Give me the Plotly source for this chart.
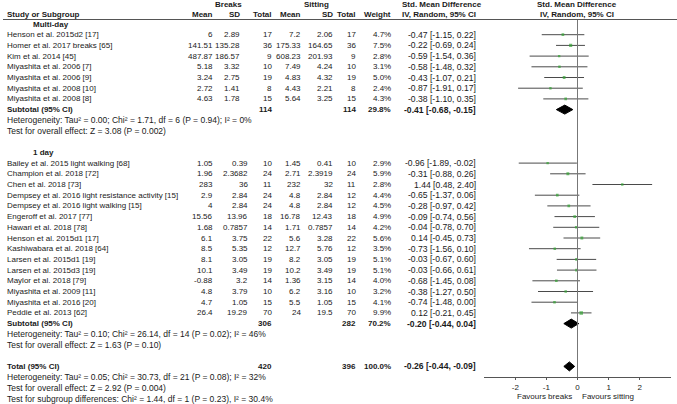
import plotly.graph_objects as go

# ---------------- data ----------------
multi_study = ["Henson et al. 2015d2 [17]", "Homer et al. 2017 breaks [65]", "Kim et al. 2014 [45]",
               "Miyashita et al. 2006 [7]", "Miyashita et al. 2006 [9]", "Miyashita et al. 2008 [10]",
               "Miyashita et al. 2008 [8]"]
multi_b_mean = ["6", "141.51", "487.87", "5.18", "3.24", "2.72", "4.63"]
multi_b_sd = ["2.89", "135.28", "186.57", "3.32", "2.75", "1.41", "1.78"]
multi_b_n = [17, 36, 9, 10, 19, 8, 15]
multi_s_mean = ["7.2", "175.33", "608.23", "7.49", "4.83", "4.43", "5.64"]
multi_s_sd = ["2.06", "164.65", "201.93", "4.24", "4.32", "2.21", "3.25"]
multi_s_n = [17, 36, 9, 10, 19, 8, 15]
multi_weight = [4.7, 7.5, 2.8, 3.1, 5.0, 2.4, 4.3]
multi_smd = [-0.47, -0.22, -0.59, -0.58, -0.43, -0.87, -0.38]
multi_lo = [-1.15, -0.69, -1.54, -1.48, -1.07, -1.91, -1.10]
multi_hi = [0.22, 0.24, 0.36, 0.32, 0.21, 0.17, 0.35]

day_study = ["Bailey et al. 2015 light walking [68]", "Champion et al. 2018 [72]", "Chen et al. 2018 [73]",
             "Dempsey et al. 2016 light resistance activity [15]", "Dempsey et al. 2016 light walking [15]",
             "Engeroff et al. 2017 [77]", "Hawari et al. 2018 [78]", "Henson et al. 2015d1 [17]",
             "Kashiwabara et al. 2018 [64]", "Larsen et al. 2015d1 [19]", "Larsen et al. 2015d3 [19]",
             "Maylor et al. 2018 [79]", "Miyashita et al. 2009 [11]", "Miyashita et al. 2016 [20]",
             "Peddie et al. 2013 [62]"]
day_b_mean = ["1.05", "1.96", "283", "2.9", "4", "15.56", "1.68", "6.1", "8.5", "8.1", "10.1", "-0.88", "4.8", "4.7", "26.4"]
day_b_sd = ["0.39", "2.3682", "36", "2.84", "2.84", "13.96", "0.7857", "3.75", "5.35", "3.05", "3.49", "3.2", "3.79", "1.05", "19.29"]
day_b_n = [10, 24, 11, 24, 24, 18, 14, 22, 12, 19, 19, 14, 10, 15, 70]
day_s_mean = ["1.45", "2.71", "232", "4.8", "4.8", "16.78", "1.71", "5.6", "12.7", "8.2", "10.2", "1.36", "6.2", "5.5", "24"]
day_s_sd = ["0.41", "2.3919", "32", "2.84", "2.84", "12.43", "0.7857", "3.28", "5.76", "3.05", "3.49", "3.15", "3.16", "1.05", "19.5"]
day_s_n = [10, 24, 11, 12, 12, 18, 14, 22, 12, 19, 19, 14, 10, 15, 70]
day_weight = [2.9, 5.9, 2.8, 4.4, 4.5, 4.9, 4.2, 5.6, 3.5, 5.1, 5.1, 4.0, 3.2, 4.1, 9.9]
day_smd = [-0.96, -0.31, 1.44, -0.65, -0.28, -0.09, -0.04, 0.14, -0.73, -0.03, -0.03, -0.68, -0.38, -0.74, 0.12]
day_lo = [-1.89, -0.88, 0.48, -1.37, -0.97, -0.74, -0.78, -0.45, -1.56, -0.67, -0.66, -1.45, -1.27, -1.48, -0.21]
day_hi = [-0.02, 0.26, 2.40, 0.06, 0.42, 0.56, 0.70, 0.73, 0.10, 0.60, 0.61, 0.08, 0.50, 0.00, 0.45]

# subtotals: [b_total, s_total, weight, smd, lo, hi]
sub_multi = [114, 114, 29.8, -0.41, -0.68, -0.15]
sub_day = [306, 282, 70.2, -0.20, -0.44, 0.04]
total_all = [420, 396, 100.0, -0.26, -0.44, -0.09]

het_multi = "Heterogeneity: Tau² = 0.00; Chi² = 1.71, df = 6 (P = 0.94); I² = 0%"
eff_multi = "Test for overall effect: Z = 3.08 (P = 0.002)"
het_day = "Heterogeneity: Tau² = 0.10; Chi² = 26.14, df = 14 (P = 0.02); I² = 46%"
eff_day = "Test for overall effect: Z = 1.63 (P = 0.10)"
het_total = "Heterogeneity: Tau² = 0.05; Chi² = 30.73, df = 21 (P = 0.08); I² = 32%"
eff_total = "Test for overall effect: Z = 2.92 (P = 0.004)"
sub_diff = "Test for subgroup differences: Chi² = 1.44, df = 1 (P = 0.23), I² = 30.4%"

tick_vals = [-2, -1, 0, 1, 2]
tick_text = ["-2", "-1", "0", "1", "2"]

# ---------------- layout helpers ----------------
W, H = 677, 404
ROW0, STEP = 24.0, 10.7
FONT = "Arial, Liberation Sans, sans-serif"
FS = 8          # names, numbers, headers
FS_CI = 8.6     # effect-size column
FS_NOTE = 8.5   # heterogeneity / test lines
TXT = "#1a1a1a"


def ry(i):
    return ROW0 + STEP * i


# column right edges (px)
C_BMEAN, C_BSD_M, C_BSD_D, C_BTOT = 214, 241, 249, 273
C_SMEAN, C_SSD, C_STOT, C_W, C_CI = 302, 333.5, 357, 392, 477
C_LEFT, C_IND = 5.5, 31.5

annotations = []


def txt(s, xpx, y, anchor="right", bold=False, xref="paper", size=FS):
    annotations.append(dict(
        text=f"<b>{s}</b>" if bold else s,
        x=xpx / W if xref == "paper" else xpx, xref=xref, y=y, yref="y",
        xanchor=anchor, yanchor="middle", showarrow=False,
        font=dict(family=FONT, size=size, color=TXT), borderpad=0))


def ci_text(m, lo, hi):
    return f"{m:.2f} [{lo:.2f}, {hi:.2f}]"


# headers
hy1, hy2 = 4.5, 14.0
txt("Breaks", 228.5, hy1, "center", True)
txt("Sitting", 316, hy1, "center", True)
txt("Std. Mean Difference", 441.5, hy1, "center", True)
txt("Std. Mean Difference", 0, hy1, "center", True, xref="x")
txt("Study or Subgroup", C_LEFT, hy2, "left", True)
for s, c in [("Mean", C_BMEAN), ("SD", C_BSD_M), ("Total", C_BTOT), ("Mean", C_SMEAN),
             ("SD", C_SSD), ("Total", C_STOT), ("Weight", C_W), ("IV, Random, 95% CI", C_CI)]:
    txt(s, c, hy2, "right", True)
txt("IV, Random, 95% CI", 0, hy2, "center", True, xref="x")

fx, fy, fs_sizes = [], [], []
lx, ly = [], []
dx, dy = [], []
DH = 4.5


def summary_row(y, label, vals):
    txt(label, C_LEFT, y, "left", True)
    txt(str(vals[0]), C_BTOT, y, "right", True)
    txt(str(vals[1]), C_STOT, y, "right", True)
    txt(f"{vals[2]:.1f}%", C_W, y, "right", True)
    txt(ci_text(vals[3], vals[4], vals[5]), C_CI, y, "right", True, size=FS_CI)
    dx.extend([vals[4], vals[3], vals[5], vals[3], vals[4], None])
    dy.extend([y, y - DH, y, y + DH, y, None])


def group(row_start, title, study, bm, bsd, bn, sm, ssd, sn, w, smd, lo, hi, sd_col, sub, het, eff):
    txt(title, C_IND, ry(row_start), "left", True)
    for k in range(len(study)):
        y = ry(row_start + 1 + k)
        txt(study[k], C_LEFT, y, "left")
        txt(bm[k], C_BMEAN, y)
        txt(bsd[k], sd_col, y)
        txt(str(bn[k]), C_BTOT, y)
        txt(sm[k], C_SMEAN, y)
        txt(ssd[k], C_SSD, y)
        txt(str(sn[k]), C_STOT, y)
        txt(f"{w[k]:.1f}%", C_W, y)
        txt(ci_text(smd[k], lo[k], hi[k]), C_CI, y, size=FS_CI)
        lx.extend([lo[k], hi[k], None])
        ly.extend([y, y, None])
        fx.append(smd[k])
        fy.append(y)
        fs_sizes.append(2 + w[k] * 0.15)
    ys = ry(row_start + 1 + len(study))
    summary_row(ys, "Subtotal (95% CI)", sub)
    txt(het, C_LEFT, ys + STEP, "left", size=FS_NOTE)
    txt(eff, C_LEFT, ys + 2 * STEP, "left", size=FS_NOTE)


group(0, "Multi-day", multi_study, multi_b_mean, multi_b_sd, multi_b_n, multi_s_mean, multi_s_sd,
      multi_s_n, multi_weight, multi_smd, multi_lo, multi_hi, C_BSD_M, sub_multi, het_multi, eff_multi)
group(12, "1 day", day_study, day_b_mean, day_b_sd, day_b_n, day_s_mean, day_s_sd,
      day_s_n, day_weight, day_smd, day_lo, day_hi, C_BSD_D, sub_day, het_day, eff_day)
summary_row(ry(32), "Total (95% CI)", total_all)
txt(het_total, C_LEFT, ry(33), "left", size=FS_NOTE)
txt(eff_total, C_LEFT, ry(34), "left", size=FS_NOTE)
txt(sub_diff, C_LEFT, ry(35), "left", size=FS_NOTE)

AXIS_Y = 377.2
for label, anchor, shift in [("Favours breaks", "right", -4), ("Favours sitting", "left", 4)]:
    annotations.append(dict(text=label, x=0, xref="x", y=396, yref="y", xanchor=anchor,
                            yanchor="middle", xshift=shift, showarrow=False, borderpad=0,
                            font=dict(family=FONT, size=FS, color=TXT)))

fig = go.Figure()
fig.add_trace(go.Scatter(x=lx, y=ly, mode="lines", line=dict(color="#4a4a4a", width=1),
                         hoverinfo="skip", showlegend=False))
fig.add_trace(go.Scatter(x=fx, y=fy, mode="markers",
                         marker=dict(symbol="square", size=fs_sizes, color="#33a333", line=dict(width=0)),
                         showlegend=False))
fig.add_trace(go.Scatter(x=dx, y=dy, mode="lines", fill="toself", fillcolor="black",
                         line=dict(color="black", width=1), showlegend=False, hoverinfo="skip"))

# zero line and header rule
fig.add_shape(type="line", xref="x", yref="y", x0=0, x1=0, y0=19.5, y1=AXIS_Y,
              line=dict(color="#777777", width=1))
fig.add_shape(type="line", xref="paper", yref="y", x0=3 / W, x1=1, y0=19.5, y1=19.5,
              line=dict(color="#555555", width=1))

x_lo, x_hi = 484.2, 670.8
fig.update_layout(
    width=W, height=H, margin=dict(l=0, r=0, t=0, b=0),
    paper_bgcolor="white", plot_bgcolor="rgba(0,0,0,0)",
    annotations=annotations,
    xaxis=dict(domain=[x_lo / W, x_hi / W], range=[-3, 3], anchor="free", position=1 - AXIS_Y / H,
               showgrid=False, zeroline=False, showline=True, linecolor="#555555", linewidth=1,
               ticks="outside", ticklen=2, tickcolor="#555555", tickvals=tick_vals, ticktext=tick_text,
               tickfont=dict(family=FONT, size=FS, color=TXT), fixedrange=True),
    yaxis=dict(domain=[0, 1], range=[H, 0], visible=False, fixedrange=True),
    font=dict(family=FONT, size=FS, color=TXT),
    hovermode=False,
)

fig.write_html("out.html", config={"displayModeBar": False},
               post_script="document.body.style.margin='0px';document.body.style.overflow='hidden';")
